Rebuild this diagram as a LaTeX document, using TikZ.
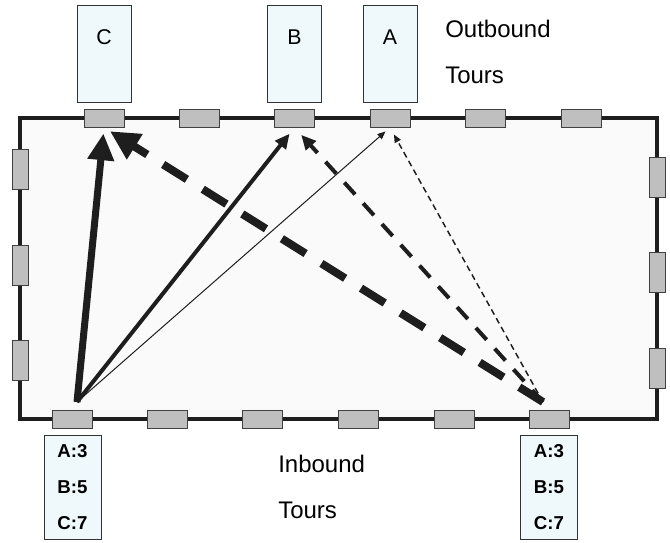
\documentclass[tikz,border=0pt]{standalone}
\usepackage{xcolor}
\usepackage{fontspec}
\setmainfont{Liberation Sans}
\usetikzlibrary{positioning,arrows.meta}

\definecolor{yardfill}{HTML}{FAFAFA}
\definecolor{doorfill}{HTML}{BFBFBF}
\definecolor{boxfill}{HTML}{EFF8FA}
\definecolor{ink}{HTML}{1E1E1E}

\tikzset{
  yard/.style={draw=ink, fill=yardfill, line width=3pt, inner sep=0pt},
  door/.style={draw=black!75, fill=doorfill, line width=0.75pt, minimum width=30pt, minimum height=13.5pt, inner sep=0pt},
  sidedoor/.style={door, minimum width=12pt, minimum height=30pt},
  tourbox/.style={draw=black!80, fill=boxfill, line width=0.75pt, minimum width=40.5pt, inner xsep=0pt, inner ysep=0pt, text height=28.9pt, text depth=43.1pt, font=\fontsize{16}{19}\selectfont},
  countbox/.style={draw=black!80, fill=boxfill, line width=0.75pt, minimum width=42.75pt, minimum height=78pt, inner sep=0pt, align=center, font=\fontsize{14}{27}\selectfont\bfseries},
  caption/.style={anchor=north west, inner sep=0pt, align=left, font=\fontsize{18}{34.5}\selectfont},
  heavy/.style={draw=ink, line width=5.25pt, -{Triangle[length=20pt,width=19pt]}},
  heavydash/.style={draw=ink, line width=6pt, dash pattern=on 21pt off 14pt, -{Triangle[length=22pt,width=21pt]}},
  medium/.style={draw=ink, line width=3pt, -{Triangle[length=11pt,width=10pt]}},
  mediumdash/.style={medium, dash pattern=on 12pt off 9pt},
  light/.style={draw=ink, line width=0.75pt, -{Triangle[length=6pt,width=5pt]}},
  lightdash/.style={light, line width=1.1pt, dash pattern=on 4.5pt off 3pt}
}

\begin{document}
\begin{tikzpicture}[x=0.75pt,y=-0.75pt]
    \useasboundingbox (0,0) rectangle (670,542);

    \node[yard, minimum width=477.75pt, minimum height=225.75pt] (yard) at (338.5,268.5) {};

    \foreach \i/\x in {1/104,2/199.5,3/294.5,4/390,5/485.5,6/581}
      \node[door] (out\i) at (\x,118) {};
    \foreach \i/\x in {1/72.5,2/167.5,3/262,4/358,5/454,6/549}
      \node[door] (in\i) at (\x,419) {};
    \foreach \i/\y in {1/169,2/265,3/360}
      \node[sidedoor] (west\i) at (20,\y) {};
    \foreach \i/\y in {1/177.5,2/272.5,3/368}
      \node[sidedoor] (east\i) at (657,\y) {};

    \node[tourbox, above=4.5pt of out1] (tourC) {C};
    \node[tourbox, above=4.5pt of out3] (tourB) {B};
    \node[tourbox, above=4.5pt of out4] (tourA) {A};

    \node[countbox, below=4.5pt of in1] (countW) {A:3\\B:5\\C:7};
    \node[countbox, below=4.5pt of in6] (countE) {A:3\\B:5\\C:7};

    \node[caption] (outcap) at (445,20) {Outbound\\Tours};
    \node[caption] (incap) at (278,455) {Inbound\\Tours};

    \coordinate (srcW) at (77,402);
    \coordinate (srcE) at (543,402);

    \draw[heavy, shorten >=4.5pt] (srcW) -- (out1.south);
    \draw[medium, shorten >=6pt] (srcW) -- (out3.south);
    \draw[light, shorten >=4.5pt] (srcW) -- (out4.south);
    \draw[heavydash, shorten >=5.25pt] (srcE) -- (out1.south);
    \draw[mediumdash, shorten >=7.5pt] (srcE) -- (out3.south);
    \draw[lightdash, shorten >=6pt] (srcE) -- (out4.south);
  \end{tikzpicture}
\end{document}
